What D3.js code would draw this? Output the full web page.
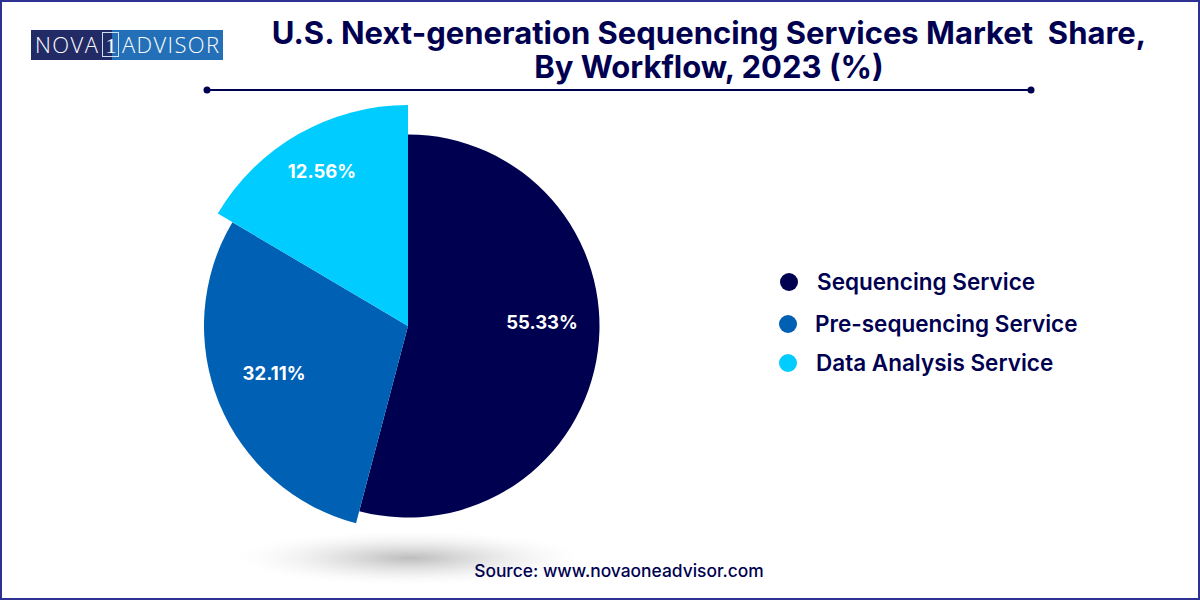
<!DOCTYPE html>
<html><head><meta charset="utf-8">
<script src="https://cdn.jsdelivr.net/npm/d3@7/dist/d3.min.js"></script>
<style>html,body{margin:0;padding:0;background:#fff}svg{display:block}text{font-family:Inter,sans-serif;white-space:pre}</style>
</head><body><svg id="c" width="1200" height="600"></svg>
<script>
const categories = ["Sequencing Service","Pre-sequencing Service","Data Analysis Service"];
// Printed percentages, as they appear on the slices.
const printedLabels = ["55.33%","32.11%","12.56%"];
// Angular shares as actually drawn in the picture (they differ from the printed labels).
const drawnShares = [54.1,29.4,16.5];
const titleLines = ["U.S. Next-generation Sequencing Services Market  Share,","By Workflow, 2023 (%)"];
const sourceText = "Source: www.novaoneadvisor.com";
const colors = ["#000050","#0060B4","#00CCFF"];

const outerR = [191.5,204,221];
const labelPos = [[134,-3],[-134,48],[-86,-154]];
const legendY = [282,324,363], legendDotX=[789,788,788], legendTextX=[817,815,816];

const svg = d3.select("#c");
const defs = svg.append("defs");
const grad = defs.append("radialGradient").attr("id","shadow");
[[0,"#bdbdbd",1],[.2,"#cccccc",.9],[.45,"#dcdcdc",.7],[.7,"#ececec",.45],[.88,"#f6f6f6",.2],[1,"#ffffff",0]].forEach(s=>
  grad.append("stop").attr("offset",s[0]).attr("stop-color",s[1]).attr("stop-opacity",s[2]));
const lg = defs.append("linearGradient").attr("id","logo");
lg.append("stop").attr("offset",.42).attr("stop-color","#232B66");
lg.append("stop").attr("offset",.42).attr("stop-color","#2470B8");

svg.append("rect").attr("x",1).attr("y",1).attr("width",1198).attr("height",598)
  .attr("fill","#fff").attr("stroke","#2E3192").attr("stroke-width",2);

// logo
svg.append("rect").attr("x",31).attr("y",30).attr("width",192).attr("height",30).attr("fill","url(#logo)");
const logo = svg.append("g").attr("fill","#fff").style("font-size","22px").style("font-weight",300);
logo.append("text").attr("x",35).attr("y",53).text("NOVA").style("font-family","'Open Sans',sans-serif").attr("textLength",63);
logo.append("text").attr("x",111).attr("y",53).text("1").attr("text-anchor","middle").style("font-family","'Liberation Serif',serif");
logo.append("text").attr("x",122).attr("y",53).text("ADVISOR").style("font-family","'Open Sans',sans-serif").attr("textLength",97);
svg.append("rect").attr("x",102.5).attr("y",32.5).attr("width",16).attr("height",24).attr("fill","none").attr("stroke","#cfe0f2").attr("stroke-width",1);

// title
svg.selectAll("text.t").data(titleLines).join("text").attr("class","t")
  .attr("x",709).attr("y",(d,i)=>44+i*34).attr("text-anchor","middle")
  .attr("fill","#000050").style("font-size","31px").style("font-weight",700).text(d=>d);
svg.append("line").attr("x1",207).attr("x2",1031).attr("y1",90).attr("y2",90).attr("stroke","#000050").attr("stroke-width",2);
svg.selectAll("circle.e").data([207,1031]).join("circle").attr("class","e").attr("cx",d=>d).attr("cy",90).attr("r",3.5).attr("fill","#000050");

// shadow
svg.append("ellipse").attr("cx",410).attr("cy",558).attr("rx",180).attr("ry",28).attr("fill","url(#shadow)");

// pie
const g = svg.append("g").attr("transform","translate(408,326)");
const pie = d3.pie().sort(null)(drawnShares);
g.selectAll("path").data(pie).join("path")
  .attr("d",(d,i)=>d3.arc().innerRadius(0).outerRadius(outerR[i])(d))
  .attr("fill",(d,i)=>colors[i]);
g.selectAll("text").data(printedLabels).join("text")
  .attr("x",(d,i)=>labelPos[i][0]).attr("y",(d,i)=>labelPos[i][1]).attr("dy","0.35em")
  .attr("text-anchor","middle").attr("fill","#fff").style("font-size","18.5px").style("font-weight",700).text(d=>d);

// legend
svg.selectAll("circle.l").data(categories).join("circle").attr("class","l")
  .attr("cx",(d,i)=>legendDotX[i]).attr("cy",(d,i)=>legendY[i]).attr("r",9).attr("fill",(d,i)=>colors[i]);
svg.selectAll("text.l").data(categories).join("text").attr("class","l")
  .attr("x",(d,i)=>legendTextX[i]).attr("y",(d,i)=>legendY[i]).attr("dy","0.35em")
  .attr("fill","#000050").style("font-size","22.5px").style("font-weight",600).text(d=>d);

// source
svg.append("text").attr("x",619).attr("y",577).attr("text-anchor","middle").attr("fill","#000050")
  .style("font-size","17.4px").style("font-weight",500).text(sourceText);
</script></body></html>
